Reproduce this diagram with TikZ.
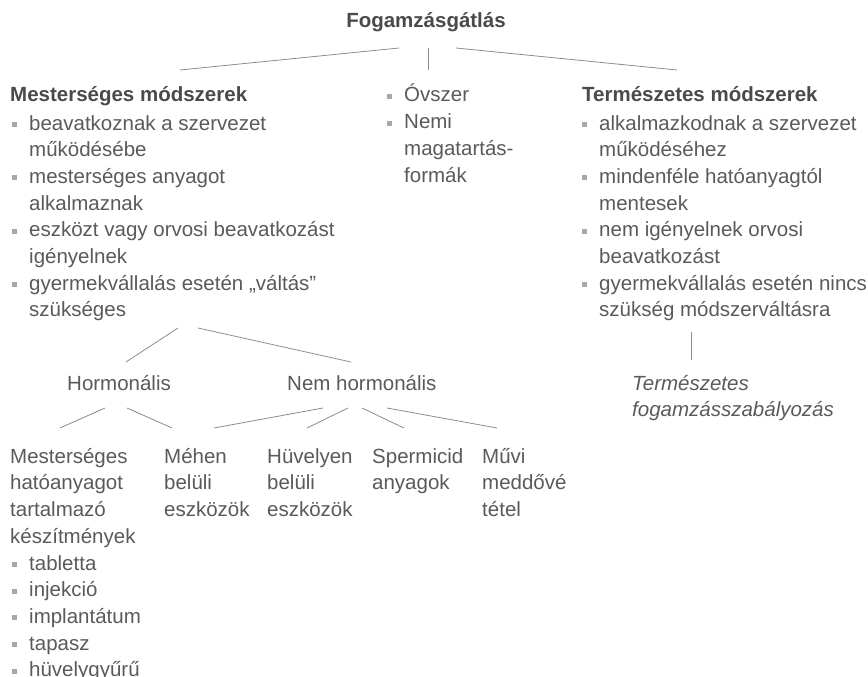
\documentclass[tikz,border=0pt]{standalone}
\usepackage{fontspec}
\setmainfont{Liberation Sans}
\definecolor{txtgray}{HTML}{5A5A5A}
\definecolor{headgray}{HTML}{4A4A4A}
\definecolor{linegray}{HTML}{8C8C8C}
\definecolor{bulgray}{HTML}{A8A8A8}
\newcommand{\bl}{\makebox[17pt][l]{\textcolor{bulgray}{\rule[3pt]{5pt}{5pt}}}}
\newcommand{\ind}{\hspace*{17pt}}
\newcommand{\lines}[1]{\parbox[t]{500pt}{\raggedright #1}}
\tikzset{
  txt/.style={anchor=base west, inner sep=0pt, text=txtgray,
    font=\fontsize{20.5pt}{26.7pt}\selectfont},
  head/.style={txt, text=headgray, font=\fontsize{20.5pt}{26.7pt}\selectfont\bfseries},
  link/.style={draw=linegray, line width=0.8pt}
}
\begin{document}
\begin{tikzpicture}[x=1pt, y=-1pt]
  \useasboundingbox (0,0) rectangle (868,677);
  % top level
  \node[head, anchor=base] (fog) at (426,28) {Fogamzásgátlás};
  \node[head] (mest) at (10,102) {Mesterséges módszerek};
  \node[txt] (ovs) at (387,102) {\lines{\bl Óvszer\\ \bl Nemi\\ \ind magatartás-\\ \ind formák}};
  \node[head] (term) at (582,102) {Természetes módszerek};
  \node[txt] (mestlist) at (12,130) {\lines{\bl beavatkoznak a szervezet\\ \ind működésébe\\
    \bl mesterséges anyagot\\ \ind alkalmaznak\\ \bl eszközt vagy orvosi beavatkozást\\
    \ind igényelnek\\ \bl gyermekvállalás esetén „váltás”\\ \ind szükséges}};
  \node[txt] (termlist) at (582,130) {\lines{\bl alkalmazkodnak a szervezet\\ \ind működéséhez\\
    \bl mindenféle hatóanyagtól\\ \ind mentesek\\ \bl nem igényelnek orvosi\\
    \ind beavatkozást\\ \bl gyermekvállalás esetén nincs\\ \ind szükség módszerváltásra}};
  % second level
  \node[txt] (horm) at (67,390) {Hormonális};
  \node[txt] (nemh) at (287,390) {Nem hormonális};
  \node[txt, font=\fontsize{20.5pt}{26.7pt}\selectfont\itshape] (natural) at (632,390)
    {\lines{Természetes\\ fogamzásszabályozás}};
  % third level
  \node[txt] (mhat) at (10,463) {\lines{Mesterséges\\ hatóanyagot\\ tartalmazó\\ készítmények}};
  \node[txt] (hatlist) at (12,570) {\lines{\bl tabletta\\ \bl injekció\\ \bl implantátum\\
    \bl tapasz\\ \bl hüvelygyűrű}};
  \node[txt] (meh) at (164,463) {\lines{Méhen\\ belüli\\ eszközök}};
  \node[txt] (huv) at (267,463) {\lines{Hüvelyen\\ belüli\\ eszközök}};
  \node[txt] (sperm) at (372,463) {\lines{Spermicid\\ anyagok}};
  \node[txt] (muvi) at (482,463) {\lines{Művi\\ meddővé\\ tétel}};
  % connectors
  \draw[link] ([shift={(-27,20)}]fog.base) -- ([shift={(170,-32)}]mest.base west);
  \draw[link] ([shift={(2,20)}]fog.base) -- ([shift={(41,-32)}]ovs.base west);
  \draw[link] ([shift={(30,20)}]fog.base) -- ([shift={(95,-32)}]term.base west);
  \draw[link] ([shift={(166,198)}]mestlist.base west) -- ([shift={(59,-28)}]horm.base west);
  \draw[link] ([shift={(186,198)}]mestlist.base west) -- ([shift={(64,-28)}]nemh.base west);
  \draw[link] ([shift={(109,202)}]termlist.base west) -- ([shift={(59,-30)}]natural.base west);
  \draw[link] ([shift={(38,18)}]horm.base west) -- ([shift={(50,-35)}]mhat.base west);
  \draw[link] ([shift={(60,18)}]horm.base west) -- ([shift={(8,-35)}]meh.base west);
  \draw[link] ([shift={(36,18)}]nemh.base west) -- ([shift={(50,-35)}]meh.base west);
  \draw[link] ([shift={(61,18)}]nemh.base west) -- ([shift={(40,-35)}]huv.base west);
  \draw[link] ([shift={(75,18)}]nemh.base west) -- ([shift={(32,-35)}]sperm.base west);
  \draw[link] ([shift={(100,18)}]nemh.base west) -- ([shift={(15,-35)}]muvi.base west);
\end{tikzpicture}
\end{document}
